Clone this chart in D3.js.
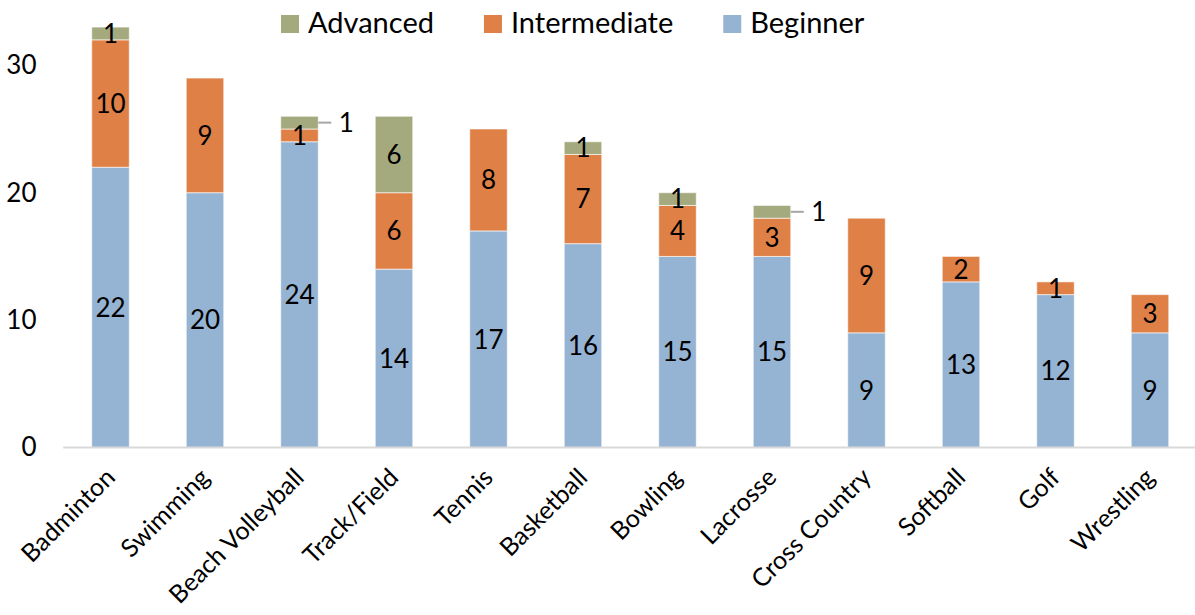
<!DOCTYPE html>
<html>
<head>
<meta charset="utf-8">
<script src="https://cdn.jsdelivr.net/npm/d3@7"></script>
<style>
  html, body { margin: 0; padding: 0; background: #fff; }
  svg { display: block; }
  text { font-family: Lato, "Open Sans", sans-serif; fill: #000; }
</style>
</head>
<body>
<svg id="chart" width="1195" height="615"></svg>
<script>
// ---- data ----
const categories = ["Badminton", "Swimming", "Beach Volleyball", "Track/Field", "Tennis", "Basketball",
                    "Bowling", "Lacrosse", "Cross Country", "Softball", "Golf", "Wrestling"];
const beginner     = [22, 20, 24, 14, 17, 16, 15, 15, 9, 13, 12, 9];
const intermediate = [10, 9, 1, 6, 8, 7, 4, 3, 9, 2, 1, 3];
const advanced     = [1, 0, 1, 6, 0, 1, 1, 1, 0, 0, 0, 0];
const seriesNames  = ["Beginner", "Intermediate", "Advanced"];
const yTicks       = [0, 10, 20, 30];
const outsideAdvancedLabels = ["Beach Volleyball", "Lacrosse"];

const colors = { Beginner: "#95b3d3", Intermediate: "#df8047", Advanced: "#a5aa7e" };

// ---- setup ----
const svg = d3.select("#chart");
const W = 1195, H = 615;
const labelSize = "26px";

const x = d3.scaleBand()
  .domain(categories)
  .range([63.25, 63.25 + 12 * 94.5])
  .paddingInner(0.603)
  .paddingOuter(0.3015);

const y = d3.scaleLinear().domain([0, 35]).range([447.5, 1.6]);

const table = categories.map((c, i) => ({
  category: c, Beginner: beginner[i], Intermediate: intermediate[i], Advanced: advanced[i]
}));
const stacked = d3.stack().keys(seriesNames)(table);

// ---- y axis labels (no line, no gridlines) ----
const yAxis = d3.axisLeft(y).tickValues(yTicks).tickSize(0).tickPadding(0);
const yg = svg.append("g").attr("transform", "translate(36.5,0)").call(yAxis);
yg.select(".domain").remove();
yg.selectAll("text")
  .attr("x", 0)
  .style("font-family", "Lato, 'Open Sans', sans-serif")
  .style("font-size", labelSize)
  .attr("fill", "#000");

// ---- bars ----
const layers = svg.append("g").selectAll("g")
  .data(stacked).join("g")
  .attr("fill", d => colors[d.key]);

layers.selectAll("rect")
  .data(d => d.map(v => ({ key: d.key, v })))
  .join("rect")
  .filter(d => d.v[1] - d.v[0] > 0)
  .attr("x", d => x(d.v.data.category))
  .attr("width", x.bandwidth())
  .attr("y", d => y(d.v[1]))
  .attr("height", d => y(d.v[0]) - y(d.v[1]))
  .attr("stroke", "#ffffff")
  .attr("stroke-opacity", 0.6)
  .attr("stroke-width", 1);

// ---- x axis line ----
const xAxis = d3.axisBottom(x).tickSize(0).tickFormat("");
const xg = svg.append("g").attr("transform", `translate(0,${y(0)})`).call(xAxis);
xg.select(".domain")
  .attr("d", `M${x.range()[0]},0H${W}`)
  .attr("stroke", "#d9d9d9")
  .attr("stroke-width", 2);

// ---- category labels ----
svg.append("g").selectAll("text")
  .data(categories).join("text")
  .attr("transform", d => `translate(${x(d) + x.bandwidth() / 2 + 6},479) rotate(-45)`)
  .attr("text-anchor", "end")
  .style("font-size", "25px")
  .text(d => d);

// ---- data labels ----
const labelG = svg.append("g");
stacked.forEach(layer => {
  layer.forEach(v => {
    const val = v[1] - v[0];
    if (val <= 0) return;
    const cat = v.data.category;
    const cx = x(cat) + x.bandwidth() / 2;
    const cy = (y(v[0]) + y(v[1])) / 2;
    if (layer.key === "Advanced" && outsideAdvancedLabels.includes(cat)) {
      const right = x(cat) + x.bandwidth();
      labelG.append("line")
        .attr("x1", right).attr("x2", right + 13)
        .attr("y1", cy).attr("y2", cy)
        .attr("stroke", "#a6a6a6").attr("stroke-width", 2);
      labelG.append("text")
        .attr("x", right + 28).attr("y", cy).attr("dy", "0.36em")
        .attr("text-anchor", "middle")
        .style("font-size", labelSize)
        .text(val);
    } else {
      labelG.append("text")
        .attr("x", cx).attr("y", cy).attr("dy", "0.36em")
        .attr("text-anchor", "middle")
        .style("font-size", labelSize)
        .text(val);
    }
  });
});

// ---- legend ----
const legendOrder = ["Advanced", "Intermediate", "Beginner"];
const legend = svg.append("g");
const sq = 18, gapText = 9, gapItem = 50, legendCenter = 572.7;
const items = legendOrder.map(k => {
  const g = legend.append("g");
  g.append("rect").attr("width", sq).attr("height", sq).attr("y", 15).attr("fill", colors[k]);
  const t = g.append("text").attr("x", sq + gapText).attr("y", 33)
    .style("font-size", "29px").text(k);
  return { g, w: sq + gapText + t.node().getComputedTextLength() };
});
const total = d3.sum(items, d => d.w) + gapItem * (items.length - 1);
let cur = legendCenter - total / 2;
items.forEach(it => { it.g.attr("transform", `translate(${cur},0)`); cur += it.w + gapItem; });
</script>
</body>
</html>
